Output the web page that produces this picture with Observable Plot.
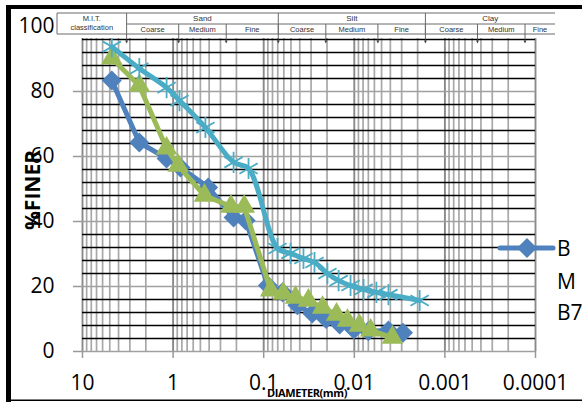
<!DOCTYPE html>
<html><head><meta charset="utf-8">
<script src="https://cdn.jsdelivr.net/npm/d3@7"></script>
<script src="https://cdn.jsdelivr.net/npm/@observablehq/plot@0.6"></script>
<style>
body{margin:0;background:#fff;}
#wrap{position:relative;width:582px;height:403px;overflow:hidden;background:#fff;}
#wrap svg{position:absolute;left:0;top:0;}
</style></head><body><div id="wrap"></div>
<script>
// ---- data ----
const seriesNames = ["B", "M", "B7"];
const seriesColors = ["#4F81BD", "#9BBB59", "#4BACC6"];

const blueD = [4.75, 2.36, 1.18, 0.83, 0.41, 0.215, 0.158, 0.09, 0.062, 0.0425, 0.0291, 0.0205, 0.0145, 0.0101, 0.0070, 0.0042, 0.0029];
const blueP = [83.4, 64.3, 59.4, 56.6, 50.5, 41.2, 40.3, 20.3, 18.2, 14.2, 11.7, 10.0, 8.3, 6.8, 6.2, 6.5, 5.8];

const greenD = [4.75, 2.36, 1.18, 0.88, 0.45, 0.23, 0.164, 0.0837, 0.0608, 0.0446, 0.0321, 0.0224, 0.0157, 0.0119, 0.0088, 0.0066, 0.0038];
const greenP = [90.2, 81.8, 62.5, 57.2, 48.0, 44.6, 44.6, 18.8, 17.8, 16.6, 15.7, 13.5, 11.4, 9.5, 8.0, 6.5, 4.3];

const cyanD = [4.75, 2.36, 1.18, 0.85, 0.44, 0.215, 0.147, 0.0705, 0.0506, 0.0364, 0.0275, 0.0198, 0.0149, 0.0110, 0.0079, 0.0057, 0.0042, 0.0019];
const cyanP = [93.8, 87.1, 81.2, 77.2, 68.9, 58.2, 56.3, 31.7, 30.2, 28.6, 27.4, 24.0, 21.8, 20.3, 19.1, 18.2, 17.5, 15.7];

const xTicks = [10, 1, 0.1, 0.01, 0.001, 0.0001];
const xTickLabels = ["10", "1", "0.1", "0.01", "0.001", "0.0001"];
const yTicks = [0, 20, 40, 60, 80, 100];
const yMinorStep = 4;
const minorMultipliers = [2, 3, 4, 5, 6, 7, 8, 9];

const yTitle = "%FINER";
const xTitle = "DIAMETER(mm)";

// M.I.T. classification header
const mitTitle = ["M.I.T.", "classification"];
const mitGroups = ["Sand", "Silt", "Clay"];
const mitGroupBounds = [2, 0.06, 0.002, 0.0001];
const mitSubNames = ["Coarse", "Medium", "Fine"];
const mitSubBounds = [2, 0.6, 0.2, 0.06, 0.02, 0.006, 0.002, 0.0006, 0.0002, 0.0001];

// ---- build ----
const toRows = (D, P, s) => D.map((d, i) => ({d, p: P[i], s}));
const blue = toRows(blueD, blueP, seriesNames[0]);
const green = toRows(greenD, greenP, seriesNames[1]);
const cyan = toRows(cyanD, cyanP, seriesNames[2]);

const minorX = [];
for (const t of xTicks.slice(1)) for (const m of minorMultipliers) minorX.push(t * m);
const minorY = d3.range(0, 101, yMinorStep).filter(v => v % 20 !== 0);
const xLabelMap = new Map(xTicks.map((t, i) => [t, xTickLabels[i]]));

const W = 582, H = 403;
const chart = Plot.plot({
  width: W, height: H,
  marginLeft: 82, marginRight: 47, marginTop: 26, marginBottom: 52,
  style: {fontFamily: "'Open Sans', sans-serif", fontSize: "21px", color: "#000", background: "transparent", overflow: "visible"},
  x: {type: "log", domain: [10, 0.0001]},
  y: {domain: [0, 100]},
  marks: [
    Plot.ruleX(minorX, {stroke: "#a8a8a8", strokeWidth: 1.7}),
    Plot.ruleX(xTicks, {stroke: "#8a8a8a", strokeWidth: 1.9}),
    Plot.ruleY(minorY, {stroke: "#000", strokeWidth: 1.7}),
    Plot.ruleY(yTicks, {stroke: "#a0a0a0", strokeWidth: 1.7}),
    Plot.axisY({ticks: yTicks, tickSize: 9, tickPadding: 19, stroke: "#999", strokeWidth: 1.5, label: null}),
    Plot.axisX({ticks: xTicks, tickFormat: d => xLabelMap.get(d), tickSize: 7, tickPadding: 17, stroke: "#999", strokeWidth: 1.5, label: null}),
    Plot.line(blue, {x: "d", y: "p", stroke: seriesColors[0], strokeWidth: 5}),
    Plot.dot(blue, {x: "d", y: "p", symbol: "diamond2", fill: seriesColors[0], r: 9}),
    Plot.line(green, {x: "d", y: "p", stroke: seriesColors[1], strokeWidth: 5}),
    Plot.dot(green, {x: "d", y: "p", symbol: "triangle", fill: seriesColors[1], r: 8}),
    Plot.line(cyan, {x: "d", y: "p", stroke: seriesColors[2], strokeWidth: 5, curve: "catmull-rom"}),
    Plot.dot(cyan, {x: "d", y: "p", symbol: "asterisk", stroke: seriesColors[2], strokeWidth: 1.8, r: 10})
  ]
});
const wrap = document.getElementById("wrap");
wrap.appendChild(chart);

// ---- overlay: header table, titles, legend, frame ----
const ov = d3.select(wrap).append("svg").attr("width", W).attr("height", H)
  .style("font-family", "'Liberation Sans', Arial, sans-serif");
const ts = d3.scaleLog().domain([10, 0.0001]).range([57, 555]);
const yTop = 13, yMid = 24, yBot = 34;
ov.append("rect").attr("x", ts(10)).attr("y", 11).attr("width", ts(0.0001) - ts(10)).attr("height", 27).attr("fill", "#fff");
const lc = "#6a6a6a";
ov.append("line").attr("x1", ts(10)).attr("x2", ts(0.0001)).attr("y1", yTop).attr("y2", yTop).attr("stroke", lc);
ov.append("line").attr("x1", ts(2)).attr("x2", ts(0.0001)).attr("y1", yMid).attr("y2", yMid).attr("stroke", lc);
ov.append("line").attr("x1", ts(10)).attr("x2", ts(0.0001)).attr("y1", yBot).attr("y2", yBot).attr("stroke", lc);
ov.append("line").attr("x1", ts(10)).attr("x2", ts(10)).attr("y1", yTop).attr("y2", yBot).attr("stroke", lc);
for (const b of mitGroupBounds.slice(0, 3)) {
  ov.append("line").attr("x1", ts(b)).attr("x2", ts(b)).attr("y1", yTop).attr("y2", yBot).attr("stroke", lc);
}
for (const b of mitSubBounds.slice(1, 9)) {
  ov.append("line").attr("x1", ts(b)).attr("x2", ts(b)).attr("y1", yMid).attr("y2", yBot).attr("stroke", lc);
}
// arrows
for (const b of mitSubBounds.slice(0, 9)) {
  const x = ts(b);
  ov.append("line").attr("x1", x).attr("x2", x).attr("y1", yBot).attr("y2", 42).attr("stroke", "#444").attr("stroke-width", 0.8);
  ov.append("path").attr("d", `M${x - 1.5},40.5L${x + 1.5},40.5L${x},43.5Z`).attr("fill", "#444");
}
const tcol = "#333";
ov.append("text").attr("x", (ts(10) + ts(2)) / 2).attr("y", 20.5).attr("text-anchor", "middle").attr("font-size", 7.5).attr("fill", tcol).text(mitTitle[0]);
ov.append("text").attr("x", (ts(10) + ts(2)) / 2).attr("y", 30).attr("text-anchor", "middle").attr("font-size", 7.5).attr("fill", tcol).text(mitTitle[1]);
mitGroups.forEach((g, i) => {
  ov.append("text").attr("x", (ts(mitGroupBounds[i]) + ts(i === 2 ? 0.0001 : mitGroupBounds[i + 1])) / 2)
    .attr("y", 21).attr("text-anchor", "middle").attr("font-size", 8).attr("fill", tcol).text(g);
});
for (let i = 0; i < 9; i++) {
  const a = ts(mitSubBounds[i]), b = i === 8 ? ts(0.0001) : ts(mitSubBounds[i + 1]);
  ov.append("text").attr("x", (a + b) / 2).attr("y", 32).attr("text-anchor", "middle").attr("font-size", 7.5).attr("fill", tcol).text(mitSubNames[i % 3]);
}

// axis titles
ov.append("text").attr("transform", "translate(40,190) rotate(-90)").attr("text-anchor", "middle")
  .attr("font-family", "'Open Sans', sans-serif").attr("font-weight", "bold").attr("font-size", 21).text(yTitle);
ov.append("text").attr("x", 307).attr("y", 397).attr("text-anchor", "middle")
  .attr("font-family", "'Open Sans', sans-serif").attr("font-weight", "bold").attr("font-size", 11).attr("letter-spacing", -0.4).text(xTitle);

// legend
const legY = [248, 281, 312];
const lg = ov.append("g");
lg.append("line").attr("x1", 500).attr("x2", 553).attr("y1", legY[0]).attr("y2", legY[0]).attr("stroke", seriesColors[0]).attr("stroke-width", 5).attr("stroke-linecap", "round");
lg.append("path").attr("d", d3.symbol(d3.symbolDiamond2, 254)()).attr("transform", `translate(527,${legY[0]})`).attr("fill", seriesColors[0]);
seriesNames.forEach((n, i) => {
  lg.append("text").attr("x", 557).attr("y", legY[i]).attr("dy", "0.36em")
    .attr("font-family", "'Open Sans', sans-serif").attr("font-size", 21).attr("fill", "#000").text(n);
});

// frame
ov.append("rect").attr("x", 6).attr("y", 5).attr("width", 5).attr("height", 397).attr("fill", "#000");
ov.append("rect").attr("x", 6).attr("y", 5).attr("width", 580).attr("height", 4).attr("fill", "#000");
ov.append("rect").attr("x", 6).attr("y", 399.5).attr("width", 580).attr("height", 1.5).attr("fill", "#000");
</script></body></html>
